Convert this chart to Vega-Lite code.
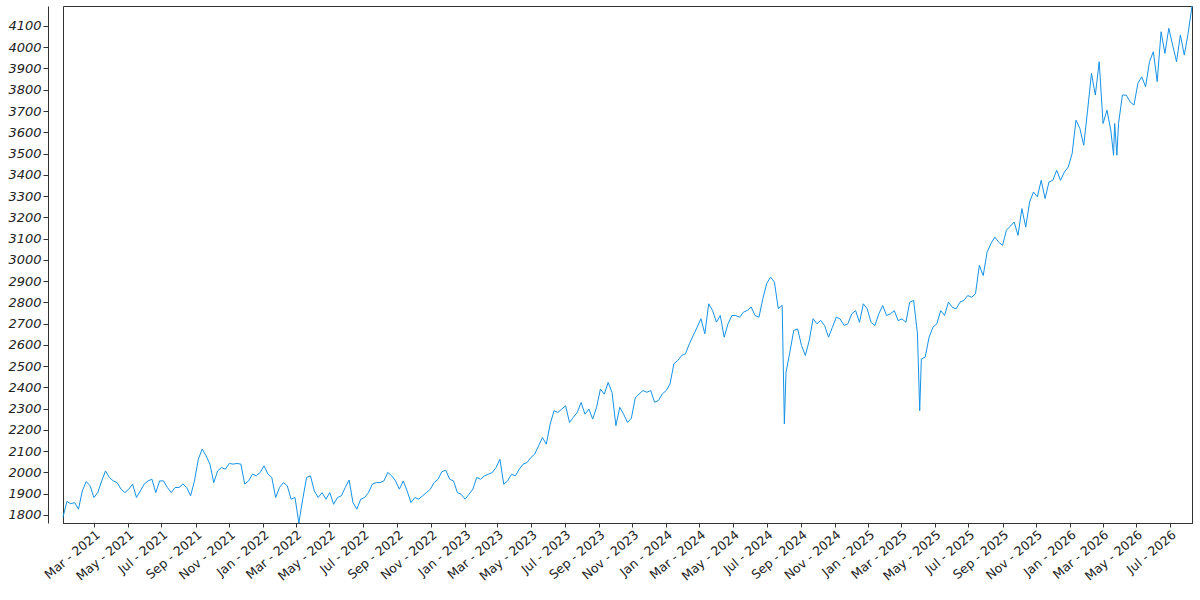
{
  "$schema": "https://vega.github.io/schema/vega-lite/v6.json",
  "width": 1129,
  "height": 517,
  "autosize": "none",
  "padding": {"left": 63, "top": 6, "right": 8, "bottom": 77},
  "data": {
    "values": [
      {"date": "2021-01-04", "value": 1790}, {"date": "2021-01-11", "value": 1863}, {"date": "2021-01-18", "value": 1853}, {"date": "2021-01-25", "value": 1858},
      {"date": "2021-02-01", "value": 1827}, {"date": "2021-02-08", "value": 1913}, {"date": "2021-02-15", "value": 1957}, {"date": "2021-02-22", "value": 1937},
      {"date": "2021-03-01", "value": 1882}, {"date": "2021-03-08", "value": 1905}, {"date": "2021-03-15", "value": 1960}, {"date": "2021-03-22", "value": 2007}, {"date": "2021-03-29", "value": 1976},
      {"date": "2021-04-05", "value": 1960}, {"date": "2021-04-12", "value": 1952}, {"date": "2021-04-19", "value": 1921}, {"date": "2021-04-26", "value": 1905},
      {"date": "2021-05-03", "value": 1921}, {"date": "2021-05-10", "value": 1945}, {"date": "2021-05-17", "value": 1882}, {"date": "2021-05-24", "value": 1913}, {"date": "2021-05-31", "value": 1945},
      {"date": "2021-06-07", "value": 1960}, {"date": "2021-06-14", "value": 1968}, {"date": "2021-06-21", "value": 1905}, {"date": "2021-06-28", "value": 1960},
      {"date": "2021-07-05", "value": 1960}, {"date": "2021-07-12", "value": 1929}, {"date": "2021-07-19", "value": 1905}, {"date": "2021-07-26", "value": 1929},
      {"date": "2021-08-02", "value": 1929}, {"date": "2021-08-09", "value": 1945}, {"date": "2021-08-16", "value": 1929}, {"date": "2021-08-23", "value": 1890}, {"date": "2021-08-30", "value": 1960},
      {"date": "2021-09-06", "value": 2062}, {"date": "2021-09-13", "value": 2110}, {"date": "2021-09-20", "value": 2078}, {"date": "2021-09-27", "value": 2039},
      {"date": "2021-10-04", "value": 1952}, {"date": "2021-10-11", "value": 2007}, {"date": "2021-10-18", "value": 2023}, {"date": "2021-10-25", "value": 2015},
      {"date": "2021-11-01", "value": 2042}, {"date": "2021-11-08", "value": 2039}, {"date": "2021-11-15", "value": 2042}, {"date": "2021-11-22", "value": 2039}, {"date": "2021-11-29", "value": 1945},
      {"date": "2021-12-06", "value": 1960}, {"date": "2021-12-13", "value": 1992}, {"date": "2021-12-20", "value": 1984}, {"date": "2021-12-27", "value": 2000},
      {"date": "2022-01-03", "value": 2031}, {"date": "2022-01-10", "value": 1992}, {"date": "2022-01-17", "value": 1976}, {"date": "2022-01-24", "value": 1882}, {"date": "2022-01-31", "value": 1929},
      {"date": "2022-02-07", "value": 1952}, {"date": "2022-02-14", "value": 1937}, {"date": "2022-02-21", "value": 1874}, {"date": "2022-02-28", "value": 1882},
      {"date": "2022-03-07", "value": 1762}, {"date": "2022-03-14", "value": 1874}, {"date": "2022-03-21", "value": 1976}, {"date": "2022-03-28", "value": 1984},
      {"date": "2022-04-04", "value": 1913}, {"date": "2022-04-11", "value": 1882}, {"date": "2022-04-18", "value": 1905}, {"date": "2022-04-25", "value": 1874},
      {"date": "2022-05-02", "value": 1905}, {"date": "2022-05-09", "value": 1850}, {"date": "2022-05-16", "value": 1882}, {"date": "2022-05-23", "value": 1890}, {"date": "2022-05-30", "value": 1929},
      {"date": "2022-06-06", "value": 1964}, {"date": "2022-06-13", "value": 1858}, {"date": "2022-06-20", "value": 1827}, {"date": "2022-06-27", "value": 1874},
      {"date": "2022-07-04", "value": 1882}, {"date": "2022-07-11", "value": 1905}, {"date": "2022-07-18", "value": 1945}, {"date": "2022-07-25", "value": 1952},
      {"date": "2022-08-01", "value": 1952}, {"date": "2022-08-08", "value": 1960}, {"date": "2022-08-15", "value": 2000}, {"date": "2022-08-22", "value": 1984}, {"date": "2022-08-29", "value": 1960},
      {"date": "2022-09-05", "value": 1921}, {"date": "2022-09-12", "value": 1960}, {"date": "2022-09-19", "value": 1913}, {"date": "2022-09-26", "value": 1858},
      {"date": "2022-10-03", "value": 1882}, {"date": "2022-10-10", "value": 1874}, {"date": "2022-10-17", "value": 1890}, {"date": "2022-10-24", "value": 1905}, {"date": "2022-10-31", "value": 1921},
      {"date": "2022-11-07", "value": 1952}, {"date": "2022-11-14", "value": 1968}, {"date": "2022-11-21", "value": 2004}, {"date": "2022-11-28", "value": 2010},
      {"date": "2022-12-05", "value": 1968}, {"date": "2022-12-12", "value": 1960}, {"date": "2022-12-19", "value": 1905}, {"date": "2022-12-26", "value": 1897},
      {"date": "2023-01-02", "value": 1874}, {"date": "2023-01-09", "value": 1897}, {"date": "2023-01-16", "value": 1921}, {"date": "2023-01-23", "value": 1976}, {"date": "2023-01-30", "value": 1968},
      {"date": "2023-02-06", "value": 1984}, {"date": "2023-02-13", "value": 1991}, {"date": "2023-02-20", "value": 1999}, {"date": "2023-02-27", "value": 2023},
      {"date": "2023-03-06", "value": 2062}, {"date": "2023-03-13", "value": 1944}, {"date": "2023-03-20", "value": 1960}, {"date": "2023-03-27", "value": 1991},
      {"date": "2023-04-03", "value": 1984}, {"date": "2023-04-10", "value": 2015}, {"date": "2023-04-17", "value": 2039}, {"date": "2023-04-24", "value": 2046},
      {"date": "2023-05-01", "value": 2070}, {"date": "2023-05-08", "value": 2086}, {"date": "2023-05-15", "value": 2125}, {"date": "2023-05-22", "value": 2164}, {"date": "2023-05-29", "value": 2133},
      {"date": "2023-06-05", "value": 2227}, {"date": "2023-06-12", "value": 2290}, {"date": "2023-06-19", "value": 2282}, {"date": "2023-06-26", "value": 2298},
      {"date": "2023-07-03", "value": 2313}, {"date": "2023-07-10", "value": 2235}, {"date": "2023-07-17", "value": 2259}, {"date": "2023-07-24", "value": 2282}, {"date": "2023-07-31", "value": 2329},
      {"date": "2023-08-07", "value": 2274}, {"date": "2023-08-14", "value": 2298}, {"date": "2023-08-21", "value": 2251}, {"date": "2023-08-28", "value": 2306},
      {"date": "2023-09-04", "value": 2392}, {"date": "2023-09-11", "value": 2368}, {"date": "2023-09-18", "value": 2423}, {"date": "2023-09-25", "value": 2376},
      {"date": "2023-10-02", "value": 2220}, {"date": "2023-10-09", "value": 2306}, {"date": "2023-10-16", "value": 2274}, {"date": "2023-10-23", "value": 2235}, {"date": "2023-10-30", "value": 2255},
      {"date": "2023-11-06", "value": 2350}, {"date": "2023-11-13", "value": 2369}, {"date": "2023-11-20", "value": 2385}, {"date": "2023-11-27", "value": 2377},
      {"date": "2023-12-04", "value": 2385}, {"date": "2023-12-11", "value": 2330}, {"date": "2023-12-18", "value": 2338}, {"date": "2023-12-25", "value": 2369},
      {"date": "2024-01-01", "value": 2385}, {"date": "2024-01-08", "value": 2416}, {"date": "2024-01-15", "value": 2511}, {"date": "2024-01-22", "value": 2526}, {"date": "2024-01-29", "value": 2550},
      {"date": "2024-02-05", "value": 2558}, {"date": "2024-02-12", "value": 2605}, {"date": "2024-02-19", "value": 2644}, {"date": "2024-02-26", "value": 2683},
      {"date": "2024-03-04", "value": 2723}, {"date": "2024-03-11", "value": 2652}, {"date": "2024-03-18", "value": 2793}, {"date": "2024-03-25", "value": 2762},
      {"date": "2024-04-01", "value": 2707}, {"date": "2024-04-08", "value": 2738}, {"date": "2024-04-15", "value": 2636}, {"date": "2024-04-22", "value": 2699}, {"date": "2024-04-29", "value": 2738},
      {"date": "2024-05-06", "value": 2738}, {"date": "2024-05-13", "value": 2730}, {"date": "2024-05-20", "value": 2754}, {"date": "2024-05-27", "value": 2762},
      {"date": "2024-06-03", "value": 2778}, {"date": "2024-06-10", "value": 2738}, {"date": "2024-06-17", "value": 2730}, {"date": "2024-06-24", "value": 2817},
      {"date": "2024-07-01", "value": 2888}, {"date": "2024-07-08", "value": 2919}, {"date": "2024-07-15", "value": 2895}, {"date": "2024-07-22", "value": 2770}, {"date": "2024-07-29", "value": 2786},
      {"date": "2024-08-02", "value": 2228}, {"date": "2024-08-05", "value": 2471}, {"date": "2024-08-12", "value": 2566}, {"date": "2024-08-19", "value": 2668}, {"date": "2024-08-26", "value": 2675},
      {"date": "2024-09-02", "value": 2597}, {"date": "2024-09-09", "value": 2550}, {"date": "2024-09-16", "value": 2621}, {"date": "2024-09-23", "value": 2723}, {"date": "2024-09-30", "value": 2699},
      {"date": "2024-10-07", "value": 2715}, {"date": "2024-10-14", "value": 2690}, {"date": "2024-10-21", "value": 2636}, {"date": "2024-10-28", "value": 2683},
      {"date": "2024-11-04", "value": 2730}, {"date": "2024-11-11", "value": 2722}, {"date": "2024-11-18", "value": 2691}, {"date": "2024-11-25", "value": 2699},
      {"date": "2024-12-02", "value": 2746}, {"date": "2024-12-09", "value": 2761}, {"date": "2024-12-16", "value": 2706}, {"date": "2024-12-23", "value": 2793}, {"date": "2024-12-30", "value": 2769},
      {"date": "2025-01-06", "value": 2706}, {"date": "2025-01-13", "value": 2691}, {"date": "2025-01-20", "value": 2746}, {"date": "2025-01-27", "value": 2785},
      {"date": "2025-02-03", "value": 2738}, {"date": "2025-02-10", "value": 2746}, {"date": "2025-02-17", "value": 2761}, {"date": "2025-02-24", "value": 2714},
      {"date": "2025-03-03", "value": 2722}, {"date": "2025-03-10", "value": 2706}, {"date": "2025-03-17", "value": 2801}, {"date": "2025-03-24", "value": 2809}, {"date": "2025-03-31", "value": 2652},
      {"date": "2025-04-04", "value": 2290}, {"date": "2025-04-07", "value": 2534}, {"date": "2025-04-14", "value": 2542}, {"date": "2025-04-21", "value": 2636}, {"date": "2025-04-28", "value": 2683},
      {"date": "2025-05-05", "value": 2699}, {"date": "2025-05-12", "value": 2761}, {"date": "2025-05-19", "value": 2738}, {"date": "2025-05-26", "value": 2801},
      {"date": "2025-06-02", "value": 2777}, {"date": "2025-06-09", "value": 2769}, {"date": "2025-06-16", "value": 2801}, {"date": "2025-06-23", "value": 2809}, {"date": "2025-06-30", "value": 2832},
      {"date": "2025-07-07", "value": 2824}, {"date": "2025-07-14", "value": 2840}, {"date": "2025-07-21", "value": 2974}, {"date": "2025-07-28", "value": 2926},
      {"date": "2025-08-04", "value": 3036}, {"date": "2025-08-11", "value": 3076}, {"date": "2025-08-18", "value": 3107}, {"date": "2025-08-25", "value": 3083},
      {"date": "2025-09-01", "value": 3068}, {"date": "2025-09-08", "value": 3139}, {"date": "2025-09-15", "value": 3158}, {"date": "2025-09-22", "value": 3178}, {"date": "2025-09-29", "value": 3115},
      {"date": "2025-10-06", "value": 3241}, {"date": "2025-10-13", "value": 3154}, {"date": "2025-10-20", "value": 3272}, {"date": "2025-10-27", "value": 3319},
      {"date": "2025-11-03", "value": 3296}, {"date": "2025-11-10", "value": 3374}, {"date": "2025-11-17", "value": 3288}, {"date": "2025-11-24", "value": 3366},
      {"date": "2025-12-01", "value": 3374}, {"date": "2025-12-08", "value": 3421}, {"date": "2025-12-15", "value": 3374}, {"date": "2025-12-22", "value": 3413}, {"date": "2025-12-29", "value": 3437},
      {"date": "2026-01-05", "value": 3500}, {"date": "2026-01-12", "value": 3657}, {"date": "2026-01-19", "value": 3618}, {"date": "2026-01-26", "value": 3539},
      {"date": "2026-02-02", "value": 3704}, {"date": "2026-02-09", "value": 3877}, {"date": "2026-02-16", "value": 3775}, {"date": "2026-02-23", "value": 3932},
      {"date": "2026-03-02", "value": 3641}, {"date": "2026-03-09", "value": 3704}, {"date": "2026-03-16", "value": 3610}, {"date": "2026-03-21", "value": 3492}, {"date": "2026-03-23", "value": 3641}, {"date": "2026-03-27", "value": 3492}, {"date": "2026-03-30", "value": 3641},
      {"date": "2026-04-06", "value": 3775}, {"date": "2026-04-13", "value": 3775}, {"date": "2026-04-20", "value": 3743}, {"date": "2026-04-27", "value": 3728},
      {"date": "2026-05-04", "value": 3830}, {"date": "2026-05-11", "value": 3861}, {"date": "2026-05-18", "value": 3814}, {"date": "2026-05-25", "value": 3932},
      {"date": "2026-06-01", "value": 3979}, {"date": "2026-06-08", "value": 3838}, {"date": "2026-06-15", "value": 4073}, {"date": "2026-06-22", "value": 3971}, {"date": "2026-06-29", "value": 4089},
      {"date": "2026-07-06", "value": 4010}, {"date": "2026-07-13", "value": 3932}, {"date": "2026-07-20", "value": 4058}, {"date": "2026-07-27", "value": 3963},
      {"date": "2026-08-03", "value": 4065}, {"date": "2026-08-10", "value": 4194}
    ]
  },
  "mark": {"type": "line", "color": "#1592e6", "strokeWidth": 1},
  "encoding": {
    "x": {
      "field": "date",
      "type": "temporal",
      "scale": {"type": "utc", "nice": false},
      "axis": {
        "title": null,
        "grid": false,
        "format": "%b - %Y",
        "tickCount": {"interval": "month", "step": 2},
        "labelAngle": -40,
        "labelAlign": "right",
        "labelBaseline": "top",
        "labelFontSize": 12.5,
        "labelPadding": 1,
        "tickSize": 4,
        "labelOverlap": false,
        "labelFlush": false
      }
    },
    "y": {
      "field": "value",
      "type": "quantitative",
      "scale": {"zero": false, "nice": false},
      "axis": {
        "title": null,
        "grid": false,
        "offset": 15,
        "format": "d",
        "values": [1800, 1900, 2000, 2100, 2200, 2300, 2400, 2500, 2600, 2700, 2800, 2900, 3000, 3100, 3200, 3300, 3400, 3500, 3600, 3700, 3800, 3900, 4000, 4100],
        "labelFontSize": 13,
        "labelFontStyle": "italic",
        "labelPadding": 2,
        "tickSize": 5
      }
    }
  },
  "config": {
    "font": "DejaVu Sans",
    "view": {"stroke": "#333333", "strokeWidth": 1},
    "axis": {
      "labelFont": "DejaVu Sans",
      "labelColor": "#222222",
      "domainColor": "#333333",
      "tickColor": "#333333"
    }
  }
}
